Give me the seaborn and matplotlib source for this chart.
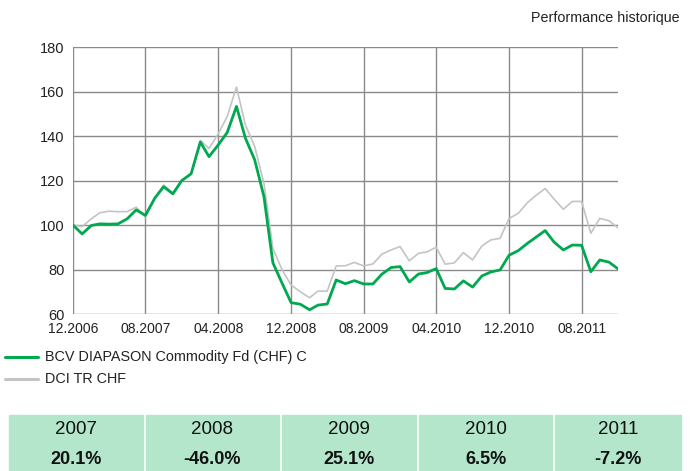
import pandas as pd
import numpy as np
import matplotlib.pyplot as plt
import matplotlib.dates as mdates
from matplotlib.patches import Rectangle
import seaborn as sns

# monthly values, 12.2006 -> 12.2011
fund = [100, 96, 99.8, 100.5, 100.4, 100.5, 102.8, 106.8, 104.3, 112, 117.2, 114,
        120, 123, 137.3, 130.7, 136, 141.6, 153.3, 139, 129.3, 112.8, 83, 73.8,
        65.1, 64.4, 61.9, 64, 64.5, 75.3, 73.6, 75, 73.5, 73.5, 77.9, 80.9,
        81.3, 74.4, 78, 78.6, 80.4, 71.5, 71.25, 74.9, 72.1, 77.1, 78.9, 79.8,
        86.4, 88.5, 91.8, 94.5, 97.5, 92.3, 88.8, 91, 90.9, 79, 84.3, 83.3, 80.3]
index = [100, 99.3, 102.8, 105.5, 106.2, 106, 106, 108, 103.8, 112, 118, 114.5,
         120, 123, 138, 134.4, 141, 148.8, 162, 145, 135.3, 118.8, 89.5, 79.8,
         73, 70, 67.3, 70.3, 70.3, 81.6, 81.7, 83.2, 81.6, 82.5, 86.9, 88.8,
         90.3, 83.9, 87.3, 87.9, 90, 82.4, 83, 87.6, 84.3, 90.6, 93.3, 94,
         102.9, 105.3, 110.1, 113.3, 116.4, 111.6, 107.1, 110.6, 110.6, 96.3, 103, 101.9, 98.7]
dates = pd.date_range("2006-12-01", periods=len(fund), freq="MS")

fund_name = "BCV DIAPASON Commodity Fd (CHF) C"
index_name = "DCI TR CHF"

years = ["2007", "2008", "2009", "2010", "2011"]
perf = ["20.1%", "-46.0%", "25.1%", "6.5%", "-7.2%"]

xtick_dates = pd.date_range("2006-12-01", "2011-08-01", freq="8MS")
yticks = [60, 80, 100, 120, 140, 160, 180]

df = pd.DataFrame({"date": list(dates) * 2,
                   "value": index + fund,
                   "serie": [index_name] * len(index) + [fund_name] * len(fund)})

sns.set_style("white")
plt.rcParams['font.family'] = ['Liberation Sans', 'DejaVu Sans']

fig = plt.figure(figsize=(6.94, 4.71), dpi=100)
ax = fig.add_axes([0.105, 0.3333, 0.7855, 0.5669])

green = "#00a84f"
grey = "#c4c4c4"
sns.lineplot(data=df, x="date", y="value", hue="serie",
             palette={index_name: grey, fund_name: green},
             hue_order=[index_name, fund_name], legend=False, ax=ax)
for line, lw in zip(ax.lines, [1.2, 2.0]):
    line.set_linewidth(lw)

ax.set_xlim(dates[0], dates[-1])
ax.set_ylim(60, 180)
ax.set_yticks(yticks)
ax.set_xticks(xtick_dates)
ax.xaxis.set_major_formatter(mdates.DateFormatter("%m.%Y"))
ax.grid(True, color="#8a8a8a", linewidth=1.0)
ax.set_axisbelow(True)
for s in ax.spines.values():
    s.set_visible(False)
ax.tick_params(axis="both", length=0, labelsize=10.5, colors="#222222")
ax.tick_params(axis="x", labelsize=10, pad=6)
ax.tick_params(axis="y", pad=6)
ax.set_xlabel("")
ax.set_ylabel("")

fig.text(0.98, 0.962, "Performance historique", ha="right", va="center", fontsize=10.3, color="#222222")

# legend
W, H = 694, 471
def fx(px):
    return px / W
def fy(py):
    return 1 - py / H

for yy, col, name in [(357, green, fund_name), (379, grey, index_name)]:
    fig.add_artist(plt.Line2D([fx(5), fx(38)], [fy(yy), fy(yy)], color=col,
                              linewidth=2.2, transform=fig.transFigure))
    fig.text(fx(45), fy(yy), name, ha="left", va="center", fontsize=10.4, color="#222222")

# yearly performance cells
cells = [(9, 143), (146, 279), (282, 416), (419, 552), (555, 681)]
for (x0, x1), yr, p in zip(cells, years, perf):
    fig.add_artist(Rectangle((fx(x0), 0), fx(x1 - x0), fy(415), color="#b3e6cb",
                             transform=fig.transFigure, zorder=0))
    cx = fx((x0 + x1) / 2)
    fig.text(cx, fy(429), yr, ha="center", va="center", fontsize=13.5, color="#111111")
    fig.text(cx, fy(460), p, ha="center", va="center", fontsize=13, weight="bold", color="#111111")

fig.savefig("out.png", dpi=100)
